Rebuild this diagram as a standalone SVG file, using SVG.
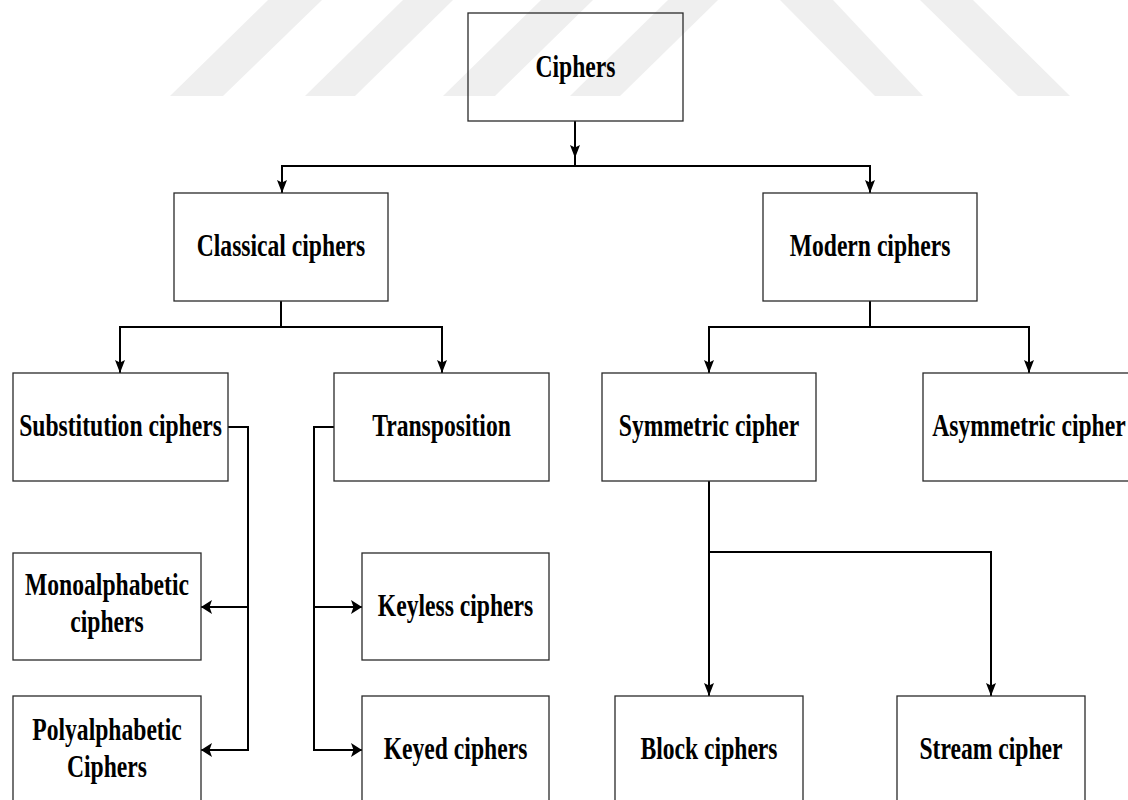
<svg xmlns="http://www.w3.org/2000/svg" width="1128" height="800" viewBox="0 0 1128 800">
  <style>
    .box { fill: none; stroke: #2a2a2a; stroke-width: 1.3; }
    .lbl { font-family: "Liberation Serif", "Times New Roman", serif; font-weight: bold; font-size: 31.5px; fill: #000; text-anchor: middle; }
    .wire { fill: none; stroke: #000; stroke-width: 2; }
    .band { fill: #efefef; }
  </style>
  <defs>
    <!-- head for vertical runs (narrow, long) -->
    <marker id="arrowV" viewBox="0 0 13 10" refX="13" refY="5" markerWidth="13" markerHeight="10" markerUnits="userSpaceOnUse" orient="auto">
      <path d="M0,0 L13,5 L0,10 L2.5,5 z" fill="#000"/>
    </marker>
    <!-- head for horizontal runs (shorter, taller) -->
    <marker id="arrowH" viewBox="0 0 11 14" refX="11" refY="7" markerWidth="11" markerHeight="14" markerUnits="userSpaceOnUse" orient="auto">
      <path d="M0,0 L11,7 L0,14 L2.5,7 z" fill="#000"/>
    </marker>
  </defs>

  <rect width="1128" height="800" fill="#ffffff"/>

  <!-- faint background watermark bands -->
  <g id="watermark">
    <polygon class="band" points="170,96 223,96 322,0 268,0"/>
    <polygon class="band" points="305,96 355,96 453,0 403,0"/>
    <polygon class="band" points="443,96 495,96 593,0 541,0"/>
    <polygon class="band" points="570,96 620,96 718,0 668,0"/>
    <polygon class="band" points="875,96 923,96 833,0 780,0"/>
    <polygon class="band" points="1018,96 1070,96 973,0 920,0"/>
  </g>

  <!-- connectors -->
  <g id="connectors">
    <path class="wire" d="M575,121 V158" marker-end="url(#arrowV)"/>
    <path class="wire" d="M575,157 V166"/>
    <path class="wire" d="M282,166 H870"/>
    <path class="wire" d="M282,165 V193" marker-end="url(#arrowV)"/>
    <path class="wire" d="M870,165 V193" marker-end="url(#arrowV)"/>

    <path class="wire" d="M281,301 V327"/>
    <path class="wire" d="M120,327 H442"/>
    <path class="wire" d="M120,326 V373" marker-end="url(#arrowV)"/>
    <path class="wire" d="M442,326 V373" marker-end="url(#arrowV)"/>

    <path class="wire" d="M870,301 V327"/>
    <path class="wire" d="M709,327 H1029"/>
    <path class="wire" d="M709,326 V373" marker-end="url(#arrowV)"/>
    <path class="wire" d="M1029,326 V373" marker-end="url(#arrowV)"/>

    <path class="wire" d="M228,427 H248 V750"/>
    <path class="wire" d="M248,607 H201" marker-end="url(#arrowH)"/>
    <path class="wire" d="M249,750 H201" marker-end="url(#arrowH)"/>

    <path class="wire" d="M334,427 H314 V750"/>
    <path class="wire" d="M314,607 H362" marker-end="url(#arrowH)"/>
    <path class="wire" d="M313,750 H362" marker-end="url(#arrowH)"/>

    <path class="wire" d="M709,481 V696" marker-end="url(#arrowV)"/>
    <path class="wire" d="M709,552 H991 V696" marker-end="url(#arrowV)"/>
  </g>

  <!-- nodes -->
  <g id="ciphers">
    <rect class="box" x="468" y="13" width="215" height="108"/>
    <text class="lbl" transform="translate(575.5,77) scale(0.75,1)">Ciphers</text>
  </g>
  <g id="classical">
    <rect class="box" x="174" y="193" width="214" height="108"/>
    <text class="lbl" transform="translate(281,256) scale(0.75,1)">Classical ciphers</text>
  </g>
  <g id="modern">
    <rect class="box" x="763" y="193" width="214" height="108"/>
    <text class="lbl" transform="translate(870,256) scale(0.75,1)">Modern ciphers</text>
  </g>
  <g id="substitution">
    <rect class="box" x="13" y="373" width="215" height="108"/>
    <text class="lbl" transform="translate(120.5,436) scale(0.75,1)">Substitution ciphers</text>
  </g>
  <g id="transposition">
    <rect class="box" x="334" y="373" width="215" height="108"/>
    <text class="lbl" transform="translate(441.5,436) scale(0.75,1)">Transposition</text>
  </g>
  <g id="symmetric">
    <rect class="box" x="602" y="373" width="214" height="108"/>
    <text class="lbl" transform="translate(709,436) scale(0.75,1)">Symmetric cipher</text>
  </g>
  <g id="asymmetric">
    <rect class="box" x="923" y="373" width="214" height="108"/>
    <text class="lbl" transform="translate(1029,436) scale(0.75,1)">Asymmetric cipher</text>
  </g>
  <g id="monoalphabetic">
    <rect class="box" x="13" y="553" width="188" height="107"/>
    <text class="lbl" transform="translate(107,595) scale(0.75,1)">Monoalphabetic</text>
    <text class="lbl" transform="translate(107,632) scale(0.75,1)">ciphers</text>
  </g>
  <g id="polyalphabetic">
    <rect class="box" x="13" y="696" width="188" height="108"/>
    <text class="lbl" transform="translate(107,740) scale(0.75,1)">Polyalphabetic</text>
    <text class="lbl" transform="translate(107,777) scale(0.75,1)">Ciphers</text>
  </g>
  <g id="keyless">
    <rect class="box" x="362" y="553" width="187" height="107"/>
    <text class="lbl" transform="translate(455.5,615.5) scale(0.75,1)">Keyless ciphers</text>
  </g>
  <g id="keyed">
    <rect class="box" x="362" y="696" width="187" height="108"/>
    <text class="lbl" transform="translate(455.5,759) scale(0.75,1)">Keyed ciphers</text>
  </g>
  <g id="block">
    <rect class="box" x="615" y="696" width="188" height="108"/>
    <text class="lbl" transform="translate(709,759) scale(0.75,1)">Block ciphers</text>
  </g>
  <g id="stream">
    <rect class="box" x="897" y="696" width="188" height="108"/>
    <text class="lbl" transform="translate(991,759) scale(0.75,1)">Stream cipher</text>
  </g>
</svg>
